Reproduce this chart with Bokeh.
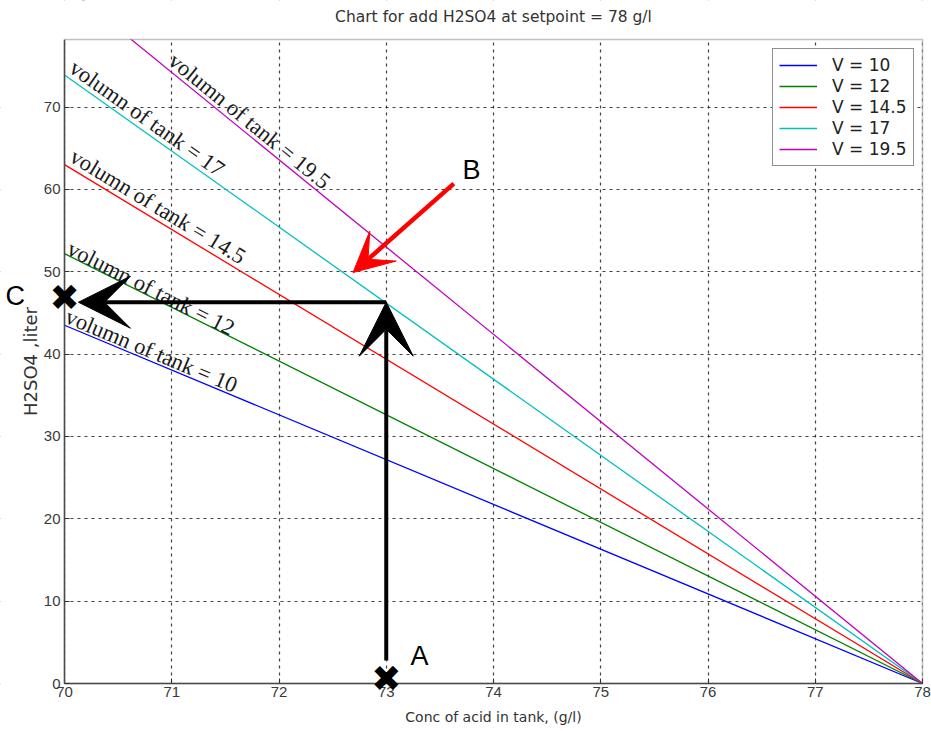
import math
from bokeh.plotting import figure
from bokeh.models import (Range1d, Label, Arrow, VeeHead, Legend, LegendItem, FixedTicker,
                          BoxAnnotation)
from bokeh.embed import file_html
from bokeh.resources import INLINE

# ---------------- data ----------------
conc_ends = [70, 78]                       # conc of acid in tank (g/l)
volumes = [10, 12, 14.5, 17, 19.5]
acid_at_70 = [43.5, 52.2, 63.0, 73.9, 84.8]  # H2SO4 litres at 70 g/l
acid_at_78 = [0, 0, 0, 0, 0]                  # H2SO4 litres at 78 g/l
series_names = ["V = 10", "V = 12", "V = 14.5", "V = 17", "V = 19.5"]
line_labels = ["volumn of tank = 10", "volumn of tank = 12", "volumn of tank = 14.5",
               "volumn of tank = 17", "volumn of tank = 19.5"]
x_ticks = [70, 71, 72, 73, 74, 75, 76, 77, 78]
y_ticks = [0, 10, 20, 30, 40, 50, 60, 70]
title_text = "Chart for add H2SO4 at setpoint = 78 g/l"

point_a = (73, 0.6)
point_c = (70, 46.9)
route_x = 73
route_y = 46.3
route_start_y = 2.8
route_end_x = 70.13
b_tail = (73.63, 60.7)
b_tip = (72.69, 49.9)

# ---------------- style / layout ----------------
colors = ["#0000ff", "#008000", "#ff0000", "#00bfbf", "#bf00bf"]
W, H = 931, 731
BL, BR, BT, BB = 64, 9, 39, 48      # where the axes box sits inside the canvas
X0, X1 = 70, 78
Y0, Y1 = 0, 78.2
label_pos = [(70.02, 44.7), (70.04, 53.0), (70.07, 64.25), (70.07, 75.1), (71.0, 76.0)]

box_w = W - BL - BR
box_h = H - BT - BB
px_per_x = box_w / (X1 - X0)
px_per_y = box_h / (Y1 - Y0)
# the frame covers the whole canvas so that marks outside the axes box show
x_start = X0 - BL / px_per_x
x_end = X1 + BR / px_per_x
y_start = Y0 - BB / px_per_y
y_end = Y1 + BT / px_per_y

p = figure(width=W, height=H, x_range=Range1d(x_start, x_end), y_range=Range1d(y_start, y_end),
           output_backend="svg", toolbar_location=None,
           min_border_left=0, min_border_right=0, min_border_top=0, min_border_bottom=0)
p.background_fill_color = "white"
p.border_fill_color = "white"
p.outline_line_color = None

for ax in (p.xaxis, p.yaxis):
    ax.axis_line_color = "#555555"
    ax.axis_line_width = 1.5
    ax.major_tick_in = 5
    ax.major_tick_out = 0
    ax.major_tick_line_color = "#333333"
    ax.minor_tick_line_color = None
    ax.major_label_text_font = "Liberation Sans"
    ax.major_label_text_font_size = "15px"
    ax.major_label_text_color = "#3a3a3a"
    ax.axis_label_text_font = "DejaVu Sans"
    ax.axis_label_text_font_style = "normal"
    ax.axis_label_text_color = "#333333"

p.xaxis.ticker = FixedTicker(ticks=x_ticks)
p.yaxis.ticker = FixedTicker(ticks=y_ticks)
p.xaxis.fixed_location = Y0
p.yaxis.fixed_location = X0
p.xaxis.bounds = (X0, X1)
p.yaxis.bounds = (Y0, Y1)
p.xaxis.axis_label = "Conc of acid in tank, (g/l)"
p.yaxis.axis_label = "H2SO4 ,liter"
p.xaxis.axis_label_text_font_size = "14px"
p.yaxis.axis_label_text_font_size = "18px"
p.xaxis.major_label_standoff = 3
p.xaxis.axis_label_standoff = 9
p.yaxis.major_label_standoff = 4
p.yaxis.axis_label_standoff = 0

for g in (p.xgrid, p.ygrid):
    g.grid_line_color = "#222222"
    g.grid_line_dash = "3 4"
    g.grid_line_width = 1.2
    g.grid_line_alpha = 0.85

# white covers outside the axes box (hide grid extensions), under the axes
for kw in (dict(right=X0), dict(top=Y0), dict(left=X1)):
    p.add_layout(BoxAnnotation(level="underlay", fill_color="white", fill_alpha=1,
                               line_color=None, **kw))

items = []
for i, name in enumerate(series_names):
    r = p.line(x=conc_ends, y=[acid_at_70[i], acid_at_78[i]], line_color=colors[i], line_width=1.3)
    items.append(LegendItem(label=name, renderers=[r]))

# cover above the axes box (clips the steepest line at the top edge)
p.add_layout(BoxAnnotation(bottom=Y1, fill_color="white", fill_alpha=1, line_color=None))
# axes box (top and right edges)
p.add_layout(BoxAnnotation(left=X0, right=X1, bottom=Y0, top=Y1,
                           fill_alpha=0, line_color="#333333", line_width=1.5))

# title
p.add_layout(Label(x=(X0 + X1) / 2, y=Y1 + (BT - 16) / px_per_y, text=title_text,
                   text_font="DejaVu Sans", text_font_size="15.5px", text_color="#333333",
                   text_align="center", text_baseline="middle"))

legend = Legend(items=items, location=(772, H - 166))
legend.border_line_color = "#222222"
legend.border_line_width = 1
legend.background_fill_color = "white"
legend.background_fill_alpha = 1
legend.padding = 6
legend.spacing = 1
legend.label_height = 18
legend.glyph_height = 18
legend.glyph_width = 38
legend.label_standoff = 15
legend.label_text_font = "DejaVu Sans"
legend.label_text_font_size = "17px"
legend.label_text_color = "#222222"
legend.margin = 0
p.add_layout(legend)

for i, txt in enumerate(line_labels):
    slope = (acid_at_70[i] - acid_at_78[i]) / (conc_ends[1] - conc_ends[0]) * px_per_y / px_per_x
    ang = -math.atan(slope)
    lx, ly = label_pos[i]
    p.add_layout(Label(x=lx, y=ly, text=txt, angle=ang, text_font="Liberation Serif",
                       text_font_size="22.5px", text_color="#1a1a1a",
                       text_align="left", text_baseline="alphabetic"))

# black route arrows
p.add_layout(Arrow(end=VeeHead(size=54, fill_color="black", line_color="black", line_width=1),
                   x_start=route_x, y_start=route_start_y, x_end=route_x, y_end=route_y,
                   line_width=4, line_color="black"))
p.add_layout(Arrow(end=VeeHead(size=52, fill_color="black", line_color="black", line_width=1),
                   x_start=route_x, y_start=route_y, x_end=route_end_x, y_end=route_y,
                   line_width=4, line_color="black"))
# red arrow
p.add_layout(Arrow(end=VeeHead(size=40, fill_color="#ff0000", line_color="#ff0000", line_width=1),
                   x_start=b_tail[0], y_start=b_tail[1], x_end=b_tip[0], y_end=b_tip[1],
                   line_width=4.5, line_color="#ff0000"))

# X markers
for (mx, my) in (point_a, point_c):
    p.add_layout(Label(x=mx, y=my, text="\u2716", text_font="DejaVu Sans", text_font_size="36px",
                       text_color="black", text_align="center", text_baseline="middle"))

# letters
for (t, tx, ty) in (("A", 73.31, 3.4), ("B", 73.795, 62.4), ("C", 69.54, 47.0)):
    p.add_layout(Label(x=tx, y=ty, text=t, text_font="Liberation Sans", text_font_size="27px",
                       text_color="black", text_align="center", text_baseline="middle"))

open("out.html", "w").write(file_html(p, INLINE))
